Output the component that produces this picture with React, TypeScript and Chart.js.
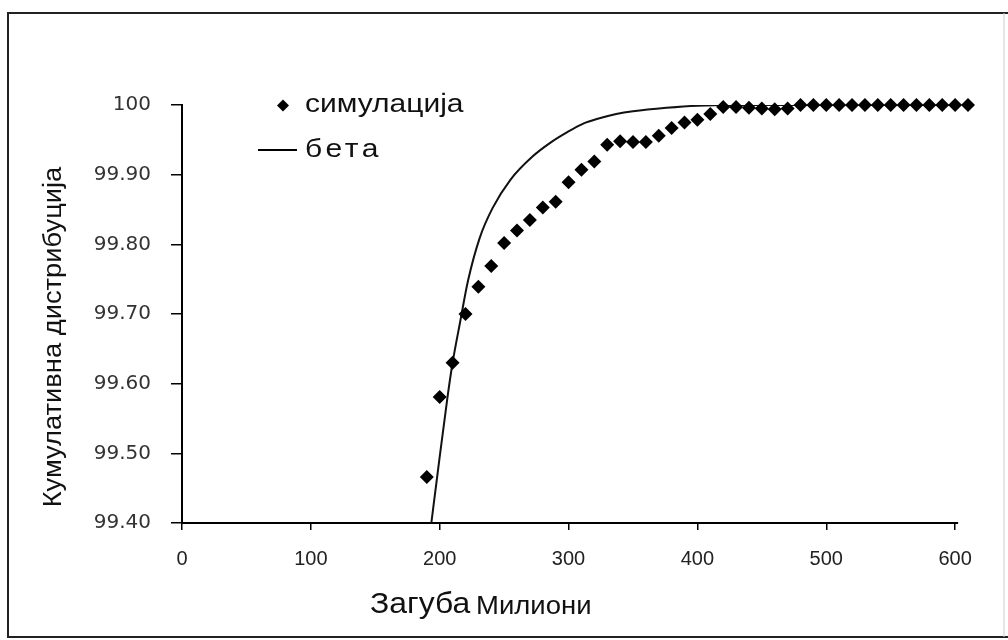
import React, { useEffect, useRef } from "react";
import { Chart, registerables } from "chart.js";

Chart.register(...registerables);

// Simulated cumulative distribution (loss in millions vs. cumulative %)
const simX = [
  190, 200, 210, 220, 230, 240, 250, 260, 270, 280, 290, 300, 310, 320, 330,
  340, 350, 360, 370, 380, 390, 400, 410, 420, 430, 440, 450, 460, 470, 480,
  490, 500, 510, 520, 530, 540, 550, 560, 570, 580, 590, 600, 610,
];
const simY = [
  99.466, 99.581, 99.63, 99.7, 99.739, 99.769, 99.802, 99.82, 99.835, 99.853,
  99.861, 99.889, 99.907, 99.919, 99.943, 99.948, 99.947, 99.947, 99.956,
  99.967, 99.975, 99.979, 99.987, 99.997, 99.997, 99.996, 99.995, 99.994,
  99.995, 100.0, 100.0, 100.0, 100.0, 100.0, 100.0, 100.0, 100.0, 100.0, 100.0,
  100.0, 100.0, 100.0, 100.0,
];

// Fitted beta distribution curve
const betaX = [
  193.5, 198, 206, 210, 216, 222, 231, 241, 255, 272, 286, 299, 311, 324, 337,
  350, 376, 400, 430, 600,
];
const betaY = [
  99.4, 99.466, 99.58, 99.63, 99.69, 99.748, 99.809, 99.852, 99.893, 99.926,
  99.946, 99.961, 99.973, 99.981, 99.987, 99.991, 99.996, 99.999, 100.0, 100.0,
];

const xTickValues = [0, 100, 200, 300, 400, 500, 600];
const xTickLabels = ["0", "100", "200", "300", "400", "500", "600"];
const yTickLabels = ["99.40", "99.50", "99.60", "99.70", "99.80", "99.90", "100"];

const seriesNames = ["симулација", "бета"];
const yTitle = "Кумулативна дистрибуција";
const xTitleMain = "Загуба";
const xTitleUnit = "Милиони";

const X_AXIS_END = 600;

const SANS = "'Liberation Sans', Arial, sans-serif";

function drawText(
  ctx: CanvasRenderingContext2D,
  text: string,
  x: number,
  y: number,
  font: string,
  sx: number,
  align: CanvasTextAlign = "left",
  spacing = 0
) {
  ctx.save();
  ctx.font = font;
  ctx.textBaseline = "middle";
  ctx.textAlign = align;
  ctx.fillStyle = "#111";
  (ctx as any).letterSpacing = `${spacing}px`;
  ctx.translate(x, y);
  ctx.scale(sx, 1);
  ctx.fillText(text, 0, 0);
  ctx.restore();
}

const decor = {
  id: "decor",
  beforeDraw(chart: any) {
    const ctx = chart.ctx as CanvasRenderingContext2D;
    ctx.save();
    ctx.fillStyle = "#fff";
    ctx.fillRect(0, 0, chart.width, chart.height);
    ctx.restore();
  },
  beforeDatasetsDraw(chart: any) {
    // horizontal axis line, ending at the last labelled tick
    const ctx = chart.ctx as CanvasRenderingContext2D;
    const xs = chart.scales.x;
    const y = chart.chartArea.bottom;
    ctx.save();
    ctx.strokeStyle = "#000";
    ctx.lineWidth = 2;
    ctx.beginPath();
    ctx.moveTo(xs.getPixelForValue(0) - 1, y);
    ctx.lineTo(xs.getPixelForValue(X_AXIS_END) + 3, y);
    ctx.stroke();
    ctx.restore();
  },
  afterDraw(chart: any) {
    const ctx = chart.ctx as CanvasRenderingContext2D;
    ctx.save();
    // outer frame
    ctx.strokeStyle = "#222";
    ctx.lineWidth = 2;
    ctx.beginPath();
    ctx.moveTo(1008, 13);
    ctx.lineTo(8, 13);
    ctx.lineTo(8, 637);
    ctx.lineTo(1008, 637);
    ctx.stroke();
    ctx.strokeStyle = "#ccc";
    ctx.lineWidth = 1;
    ctx.beginPath();
    ctx.moveTo(1004, 13);
    ctx.lineTo(1004, 637);
    ctx.stroke();

    // legend
    const names = chart.data.datasets.map((d: any) => d.label);
    ctx.fillStyle = "#000";
    ctx.beginPath();
    ctx.moveTo(283, 99.5);
    ctx.lineTo(289, 105.5);
    ctx.lineTo(283, 111.5);
    ctx.lineTo(277, 105.5);
    ctx.closePath();
    ctx.fill();
    drawText(ctx, names[0], 305, 105, `25px ${SANS}`, 1.2);
    ctx.strokeStyle = "#000";
    ctx.lineWidth = 2;
    ctx.beginPath();
    ctx.moveTo(258, 150);
    ctx.lineTo(297, 150);
    ctx.stroke();
    drawText(ctx, names[1], 305, 150, `25px ${SANS}`, 1.2, "left", 3);

    // y axis title
    ctx.save();
    ctx.translate(54, 337);
    ctx.rotate(-Math.PI / 2);
    drawText(ctx, yTitle, 0, 0, `26px ${SANS}`, 1.05, "center");
    ctx.restore();

    // x axis title
    drawText(ctx, xTitleMain, 370, 605, `29px ${SANS}`, 1.1);
    drawText(ctx, xTitleUnit, 476, 607, `25px ${SANS}`, 1.1);
    ctx.restore();
  },
};

export default function App() {
  const ref = useRef<HTMLCanvasElement>(null);

  useEffect(() => {
    const canvas = ref.current;
    if (!canvas) return;
    const chart = new Chart(canvas, {
      type: "scatter",
      data: {
        datasets: [
          {
            label: seriesNames[0],
            data: simX.map((x, i) => ({ x, y: simY[i] })),
            pointStyle: "rectRot",
            pointRadius: 7,
            pointBackgroundColor: "#000",
            pointBorderColor: "#000",
            pointBorderWidth: 0,
            showLine: false,
            clip: false as any,
          },
          {
            label: seriesNames[1],
            data: betaX.map((x, i) => ({ x, y: betaY[i] })),
            showLine: true,
            borderColor: "#111",
            borderWidth: 2,
            pointRadius: 0,
            cubicInterpolationMode: "monotone",
            fill: false,
          },
        ],
      },
      options: {
        responsive: false,
        devicePixelRatio: 1,
        animation: false,
        layout: { padding: { left: 0, right: 40, top: 105, bottom: 0 } },
        plugins: {
          legend: { display: false },
          tooltip: { enabled: false },
        },
        scales: {
          x: {
            type: "linear",
            min: 0,
            max: 610,
            afterBuildTicks: (s: any) => {
              s.ticks = xTickValues.map((v) => ({ value: v }));
            },
            ticks: {
              callback: (_v: any, i: number) => xTickLabels[i],
              font: { family: SANS, size: 20 },
              color: "#222",
              padding: 17,
              maxRotation: 0,
              autoSkip: false,
            },
            grid: {
              drawOnChartArea: false,
              drawTicks: true,
              tickLength: 7,
              color: "#000",
              lineWidth: 1.5,
            },
            border: { display: false },
            afterFit: (s: any) => {
              s.height = 117;
            },
          },
          y: {
            type: "linear",
            min: 99.4,
            max: 100,
            ticks: {
              stepSize: 0.1,
              callback: (_v: any, i: number) => yTickLabels[i],
              font: { family: "'DejaVu Sans', sans-serif", size: 20 },
              color: "#333",
              padding: 20,
            },
            grid: {
              drawOnChartArea: false,
              drawTicks: true,
              tickLength: 11,
              color: "#000",
              lineWidth: 1.5,
            },
            border: { display: true, color: "#000", width: 2 },
            afterFit: (s: any) => {
              s.width = 182;
            },
          },
        },
      },
      plugins: [decor],
    });
    return () => chart.destroy();
  }, []);

  return (
    <div style={{ position: "fixed", left: 0, top: 0, width: 1008, height: 640, background: "#fff" }}>
      <canvas ref={ref} width={1008} height={640} style={{ display: "block", width: 1008, height: 640 }} />
    </div>
  );
}
